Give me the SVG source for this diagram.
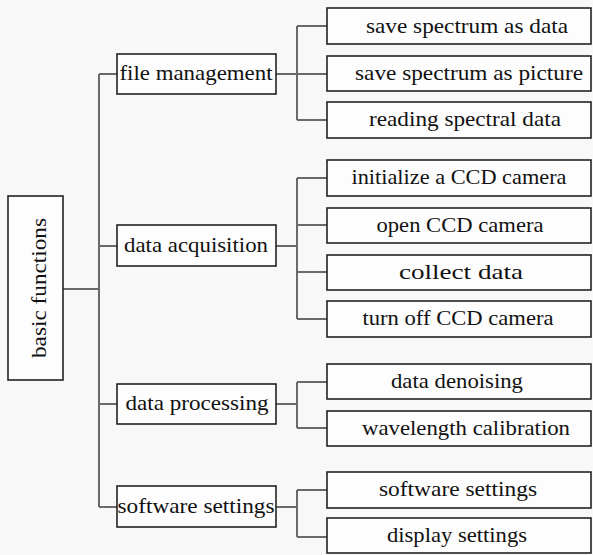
<svg xmlns="http://www.w3.org/2000/svg" width="593" height="555" viewBox="0 0 593 555">
<style>
.bg{fill:#f8f8f8}
.box{fill:#fdfdfd;stroke:#222;stroke-width:1.6}
.ln{fill:none;stroke:#6a6a6a;stroke-width:2}
text{font-family:"Liberation Serif","DejaVu Serif",serif;font-size:22px;fill:#111;text-anchor:middle}
</style>
<rect class="bg" x="0" y="0" width="593" height="555"/>
<g id="connectors">
<path class="ln" d="M63 289H99M99 74V507M99 74H117M99 246H117M99 404H117M99 507H117"/>
<path class="ln" d="M276 74H297M297 26V120M297 26H327M297 74H327M297 120H327"/>
<path class="ln" d="M276 246H297M297 178V319M297 178H327M297 225H327M297 272H327M297 319H327"/>
<path class="ln" d="M276 404H297M297 382V428M297 382H327M297 428H327"/>
<path class="ln" d="M276 507H297M297 490V537M297 490H327M297 537H327"/>
</g>
<g id="basic-functions"><rect class="box" x="8" y="196" width="55" height="184"/><text transform="translate(45.5,288) rotate(-90)" textLength="140" lengthAdjust="spacingAndGlyphs">basic functions</text></g>
<g id="file-management"><rect class="box" x="117" y="54" width="159" height="40"/><text x="196" y="80" textLength="153" lengthAdjust="spacingAndGlyphs">file management</text></g>
<g id="data-acquisition"><rect class="box" x="117" y="225" width="159" height="41"/><text x="196" y="252" textLength="144" lengthAdjust="spacingAndGlyphs">data acquisition</text></g>
<g id="data-processing"><rect class="box" x="117" y="384" width="159" height="40"/><text x="197" y="410" textLength="143" lengthAdjust="spacingAndGlyphs">data processing</text></g>
<g id="software-settings"><rect class="box" x="117" y="486" width="159" height="41"/><text x="196" y="513" textLength="157" lengthAdjust="spacingAndGlyphs">software settings</text></g>
<g id="save-data"><rect class="box" x="327" y="8" width="264" height="36"/><text x="467" y="33" textLength="202" lengthAdjust="spacingAndGlyphs">save spectrum as data</text></g>
<g id="save-picture"><rect class="box" x="327" y="56" width="264" height="35"/><text x="469" y="80" textLength="228" lengthAdjust="spacingAndGlyphs">save spectrum as picture</text></g>
<g id="reading"><rect class="box" x="327" y="102" width="264" height="36"/><text x="465" y="126" textLength="192" lengthAdjust="spacingAndGlyphs">reading spectral data</text></g>
<g id="initialize"><rect class="box" x="327" y="160" width="264" height="36"/><text x="459" y="184" textLength="215" lengthAdjust="spacingAndGlyphs">initialize a CCD camera</text></g>
<g id="open"><rect class="box" x="327" y="208" width="264" height="35"/><text x="460" y="232" textLength="167" lengthAdjust="spacingAndGlyphs">open CCD camera</text></g>
<g id="collect"><rect class="box" x="327" y="255" width="264" height="35"/><text x="461" y="279" textLength="124" lengthAdjust="spacingAndGlyphs">collect data</text></g>
<g id="turn-off"><rect class="box" x="327" y="301" width="264" height="36"/><text x="458" y="325" textLength="191" lengthAdjust="spacingAndGlyphs">turn off CCD camera</text></g>
<g id="denoising"><rect class="box" x="327" y="364" width="264" height="35"/><text x="457" y="388" textLength="132" lengthAdjust="spacingAndGlyphs">data denoising</text></g>
<g id="wavelength"><rect class="box" x="327" y="411" width="264" height="35"/><text x="466" y="435" textLength="208" lengthAdjust="spacingAndGlyphs">wavelength calibration</text></g>
<g id="sw-settings"><rect class="box" x="327" y="472" width="264" height="36"/><text x="458" y="496" textLength="158" lengthAdjust="spacingAndGlyphs">software settings</text></g>
<g id="display"><rect class="box" x="327" y="518" width="264" height="35"/><text x="457" y="542" textLength="140" lengthAdjust="spacingAndGlyphs">display settings</text></g>
</svg>
